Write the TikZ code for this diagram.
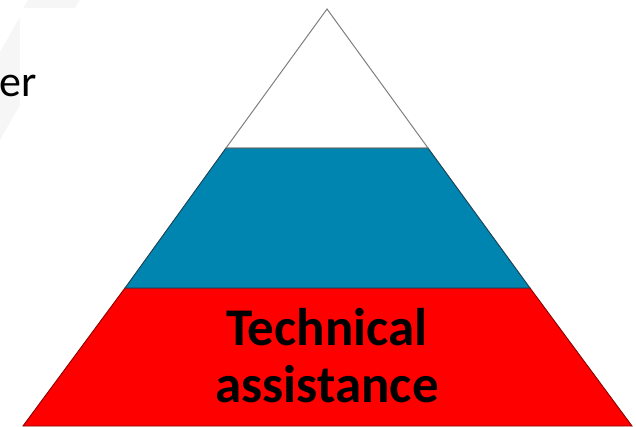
\documentclass[tikz,border=0pt]{standalone}
\usepackage{fontspec}
\setmainfont{Carlito}
\usepackage{tikz}
\usetikzlibrary{positioning}
\definecolor{capa1}{HTML}{FFFFFF}
\definecolor{capa2}{HTML}{0084B0}
\definecolor{capa3}{HTML}{FF0000}
\definecolor{borde1}{HTML}{7F7F7F}
\definecolor{borde2}{HTML}{1C3F52}
\definecolor{borde3}{HTML}{8A0000}
\definecolor{fondo}{HTML}{F6F6F6}
\tikzset{
  punta/.style={fill=capa1,draw=borde1,line width=1pt,line join=miter},
  medio/.style={fill=capa2,draw=borde2,line width=0.9pt,line join=miter},
  base/.style={fill=capa3,draw=borde3,line width=0.9pt,line join=miter},
  marca/.style={fill=fondo,draw=none},
  rotulo/.style={font=\fontsize{53}{57}\selectfont\bfseries,text=black,align=center,inner sep=0pt},
  resto/.style={font=\fontsize{44}{50}\selectfont,text=black,inner sep=0pt},
}

\begin{document}
\begin{tikzpicture}[x=1pt,y=1pt]
\useasboundingbox (0,0) rectangle (636,426);
% faint background marks
\fill[marca] (28,426) -- (80,426) -- (75,418) -- (23,418) -- cycle;
\fill[marca] (20,409) -- (20,321) -- (0,286) -- (0,374) -- cycle;
\coordinate (c1) at (327,417);
\coordinate (c2) at (226,278);
\coordinate (c3) at (428,278);
\coordinate (c4) at (125,138);
\coordinate (c5) at (530,138);
\coordinate (c6) at (23,0);
\coordinate (c7) at (632,0);
\draw[base] (c4) -- (c5) -- (c7) -- (c6) -- cycle;
\draw[medio] (c2) -- (c3) -- (c5) -- (c4) -- cycle;
\draw[punta] (c1) -- (c3) -- (c2) -- cycle;
\node[rotulo,anchor=base] (tec) at (327,24) {Technical\\assistance};
\node[resto,anchor=base east] (er) at (37,329) {er};
\end{tikzpicture}
\end{document}
